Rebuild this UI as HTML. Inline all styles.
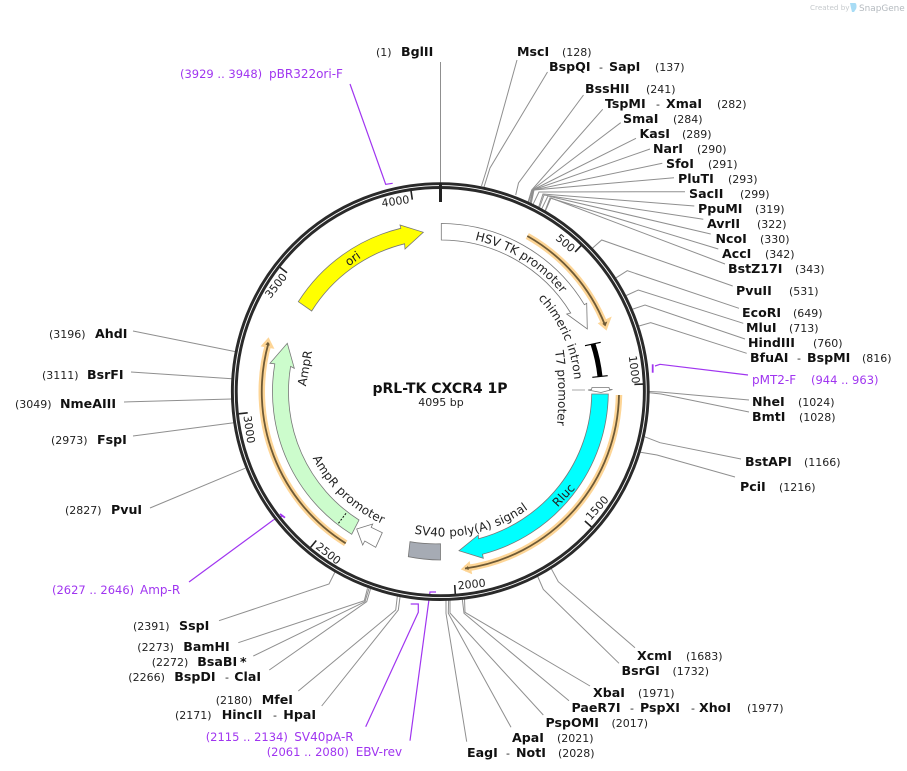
<!DOCTYPE html>
<html><head><meta charset="utf-8"><title>pRL-TK CXCR4 1P</title>
<style>
html,body{margin:0;padding:0;background:#fff}
svg{display:block}
text{font-family:"DejaVu Sans","Liberation Sans",sans-serif;fill:#111;white-space:pre}
.b{font-size:12.6px;font-weight:bold}
.n{font-size:11px;fill:#222}
.p{font-size:12px;fill:#a035f0}
.pn{font-size:11.5px;fill:#a035f0}
.t{font-size:11px;fill:#222}
.f{font-size:12px;fill:#222}
.g{fill:none;stroke:#8f8f8f;stroke-width:1}
.v{fill:none;stroke:#a035f0;stroke-width:1.2}
.o{fill:none;stroke:#fdd596;stroke-width:6.5}
.d{fill:none;stroke:#6e5a36;stroke-width:1.8}
</style></head><body>
<svg width="907" height="771" viewBox="0 0 907 771" xmlns="http://www.w3.org/2000/svg">
<!-- watermark -->
<text x="810" y="10" style="font-size:7.2px;fill:#c6cacd">Created by</text>
<path d="M850,3h5c1.5,0 2,4 1,6l-2,3h-2l-1,-4z" fill="#a8dcf5"/>
<text x="859" y="11" style="font-size:8.9px;fill:#b4babf">SnapGene</text>

<!-- connectors -->
<g class="g">
<path d="M440.5,62V183"/>
<path d="M517,60L486.5,170L481.5,186"/>
<path d="M547.5,72L490,168L484,187"/>
<path d="M583.5,95L518.5,183L515.7,195"/>
<path d="M602.7,109.3L531.7,190L528.1,201.8"/>
<path d="M620.7,122.7L532,190L528.7,202.1"/>
<path d="M636,138.3L532.5,190L530.1,202.7"/>
<path d="M650,149L533,190L530.4,202.8"/>
<path d="M662.3,163.3L533.5,190L530.8,203"/>
<path d="M674,177.7L534,190L531.3,203.3"/>
<path d="M685,191.7L539,192L533.1,204.2"/>
<path d="M694.3,206L543,194L538.7,207"/>
<path d="M703.3,219.3L544,195L539.6,207.5"/>
<path d="M710.7,234L548,196L541.8,208.7"/>
<path d="M718.3,249L550,198L545.2,210.5"/>
<path d="M725,264L551,198L545.5,210.7"/>
<path d="M732.7,286L601.7,240L592.5,248.1"/>
<path d="M739,308.3L627.3,270.7L615.9,277.9"/>
<path d="M743.3,323.3L638.3,290L626.2,295.5"/>
<path d="M745,339L645,305L632.6,309.2"/>
<path d="M746.7,353.3L650.7,322.7L639,326"/>
<path d="M749,400L660,392L649.5,391.5"/>
<path d="M749,412L661,394L649.5,392.8"/>
<path d="M741,459L660,442.7L644.5,436.7"/>
<path d="M735,477L657,455L640.5,452.3"/>
<path d="M635,647.7L558.3,581.7L551.3,568.7"/>
<path d="M619,663.3L543.3,589.3L537.7,576.5"/>
<path d="M590,686L465,612.3L464.5,599"/>
<path d="M569,700.7L464,613.3L462.3,599.3"/>
<path d="M543.3,715L450,613L450,600.3"/>
<path d="M511,727.3L448.3,613.3L448.6,600.3"/>
<path d="M466.7,741.7L446,613.3L446,600.4"/>
<path d="M321.7,706L398.3,610L400,597"/>
<path d="M298.3,691L395.7,610L397.3,596.5"/>
<path d="M269.3,670L366.7,601.7L370.5,589"/>
<path d="M253.3,656L365,601.7L369,588.5"/>
<path d="M238.3,642.7L364.3,600.7L367.5,588.3"/>
<path d="M219,620.7L329,584L335,572"/>
<path d="M150,508L245,468.3"/>
<path d="M133,436L233.8,422.7"/>
<path d="M124,402L231.6,399"/>
<path d="M131,372L231.9,378.7"/>
<path d="M133,331L235.3,351.6"/>
<path d="M572,390H585" stroke="#aaa"/>
</g>

<!-- primer connectors -->
<g class="v">
<path d="M350,84L385.7,184.3L392.7,183.3"/>
<path d="M748,375L660,364.3L655,366"/>
<path d="M652.7,364.3V372.7" stroke-width="1.8"/>
<path d="M189,582L273.3,520"/>
<path d="M280,514L285,517.7" stroke-width="1.8"/>
<path d="M273.3,520L282.5,516"/>
<path d="M365.7,726.7L418.3,612.3V604H410.7"/>
<path d="M410,740.7L430,592H436"/>
</g>

<!-- backbone -->
<circle cx="440.3" cy="391.6" r="206" fill="none" stroke="#2a2a2a" stroke-width="6.8"/>
<circle cx="440.3" cy="391.6" r="206" fill="none" stroke="#fff" stroke-width=".9"/>
<path d="M440.5,183V202" stroke="#222" stroke-width="3"/>
<g stroke="#222" stroke-width="1.6">
<path d="M581.4,245.3L575.1,251.9M643.4,384.1L634.4,384.4M591.6,527L584.9,521M455.3,594L454.7,585M310.6,547.4L316.3,540.5M238.7,413.8L247.7,412.8M279.9,267.3L287,272.8M411,190.6L412.3,199.6"/>
</g>
<g class="t" text-anchor="middle">
<text class="t" transform="translate(396,205) rotate(-8)">4000</text>
<text class="t" transform="translate(279,288) rotate(-52)">3500</text>
<text class="t" transform="translate(245.5,430) rotate(82)">3000</text>
<text class="t" transform="translate(326,556.5) rotate(38)">2500</text>
<text class="t" transform="translate(472,588) rotate(-6)">2000</text>
<text class="t" transform="translate(600,510.5) rotate(-48)">1500</text>
<text class="t" transform="translate(630.5,370) rotate(83)">1000</text>
<text class="t" transform="translate(563,246) rotate(40)">500</text>
</g>

<!-- features -->
<path d="M298.3,301.7A168,168 0 0 1 400.8,228.3L400,225L423.3,232.3L405,249L404.6,243.8A152,152 0 0 0 311.7,311Z" fill="#ffff00" stroke="#777" stroke-width=".8"/>
<path d="M441.3,223.5A168,168 0 0 1 584.4,304.7L586.7,303.3L587.3,329L566.7,314L570.7,313A152,152 0 0 0 441.3,240Z" fill="#fff" stroke="#777" stroke-width=".8"/>
<path d="M591.7,394L608.3,394A168,168 0 0 1 482.5,554.2L483.3,558.3L459,550.7L478.3,535L478.6,538.7A152,152 0 0 0 591.7,394Z" fill="#00ffff" stroke="#777" stroke-width=".8"/>
<path d="M410,541.7A152,152 0 0 0 440.5,543.8V560A168,168 0 0 1 408.3,556.7Z" fill="#a6abb4" stroke="#777" stroke-width=".8"/>
<path d="M359,520A152,152 0 0 1 290.6,366.4L294.3,368.3L287.3,343.3L270,363.3L274.8,363.8A168,168 0 0 0 351.7,534.3Z" fill="#ccfccc" stroke="#777" stroke-width=".8"/>
<path d="M346,513.3L337.7,524.3" stroke="#111" stroke-width="1" stroke-dasharray="2 1.5"/>
<path d="M382.3,532.7L375.7,547.3L364.8,541L362.7,545L356.7,529L372.7,524L371.2,527.3Z" fill="#fff" stroke="#777" stroke-width=".8"/>
<!-- chimeric intron -->
<path d="M593,344A160,160 0 0 1 600,376.5" fill="none" stroke="#000" stroke-width="5"/>
<path d="M585,345.7L600.7,342.3M592.3,377.3L607.7,375.7" stroke="#000" stroke-width="1.2"/>
<!-- T7 -->
<path d="M592,387.5L609,387.5L609.5,389.5L612.5,389.5L601,392.5L588,390L591.5,389.5Z" fill="#fff" stroke="#777" stroke-width=".8"/>

<!-- primers orange -->
<path class="o" d="M527.3,236A178,178 0 0 1 605,325"/>
<path d="M600,323.5L606,328.5L609.5,319Z" fill="#6e5a36" stroke="#fdd596" stroke-width="2.5"/>
<path class="d" d="M527.3,236A178,178 0 0 1 605,325"/>
<path class="o" d="M619,395A178.5,178.5 0 0 1 465,568.5"/>
<path d="M468.8,563.5L463,569L470.5,572.2Z" fill="#6e5a36" stroke="#fdd596" stroke-width="2.5"/>
<path class="d" d="M619,395A178.5,178.5 0 0 1 465,568.5"/>
<path class="o" d="M345.7,543.3A179,179 0 0 1 268.5,343"/>
<path d="M263,345.5L268.3,339.5L272.2,347.2Z" fill="#6e5a36" stroke="#fdd596" stroke-width="2.5"/>
<path class="d" d="M345.7,543.3A179,179 0 0 1 268.5,343"/>

<!-- curved feature labels -->
<defs>
<path id="a1" d="M474.9,239.9A156,156 0 0 1 596.5,391.5"/>
<path id="a2" d="M538,298.4A134,134 0 0 1 572.5,414.8"/>
<path id="a3" d="M555,351A300,300 0 0 1 555,440"/>
<path id="a4" d="M414,533.5A144,144 0 0 0 553.1,486"/>
<path id="a5" d="M312.5,458A145,145 0 0 0 415,534"/>
</defs>
<text class="f"><textPath href="#a1">HSV TK promoter</textPath></text>
<text class="f"><textPath href="#a2">chimeric intron</textPath></text>
<text class="f"><textPath href="#a3">T7 promoter</textPath></text>
<text class="f" style="letter-spacing:.15px"><textPath href="#a4">SV40 poly(A) signal</textPath></text>
<text class="f" style="letter-spacing:.2px"><textPath href="#a5">AmpR promoter</textPath></text>
<text class="f" text-anchor="middle" transform="translate(355,262) rotate(-35)">ori</text>
<text class="f" text-anchor="middle" transform="translate(566.5,498) rotate(-47)">Rluc</text>
<text class="f" text-anchor="middle" transform="translate(309,369) rotate(-80)">AmpR</text>

<!-- title -->
<text x="440" y="393" text-anchor="middle" style="font-size:14px;font-weight:bold">pRL-TK CXCR4 1P</text>
<text x="441" y="406" text-anchor="middle" style="font-size:11px;fill:#222">4095 bp</text>

<!-- enzyme labels -->
<text class="n" x="376" y="56">(1)</text><text class="b" x="401" y="56">BglII</text>
<text class="b" x="517" y="56">MscI</text><text class="n" x="562" y="56">(128)</text>
<text class="b" x="549" y="71">BspQI</text><text class="n" x="599" y="71">-</text><text class="b" x="609" y="71">SapI</text><text class="n" x="655" y="71">(137)</text>
<text class="b" x="585" y="93">BssHII</text><text class="n" x="646" y="93">(241)</text>
<text class="b" x="605" y="108">TspMI</text><text class="n" x="656" y="108">-</text><text class="b" x="666" y="108">XmaI</text><text class="n" x="717" y="108">(282)</text>
<text class="b" x="623" y="123">SmaI</text><text class="n" x="673" y="123">(284)</text>
<text class="b" x="639.5" y="138">KasI</text><text class="n" x="682" y="138">(289)</text>
<text class="b" x="653" y="153">NarI</text><text class="n" x="697" y="153">(290)</text>
<text class="b" x="666" y="168">SfoI</text><text class="n" x="708" y="168">(291)</text>
<text class="b" x="678" y="183">PluTI</text><text class="n" x="728" y="183">(293)</text>
<text class="b" x="689" y="198">SacII</text><text class="n" x="740" y="198">(299)</text>
<text class="b" x="698" y="213">PpuMI</text><text class="n" x="755" y="213">(319)</text>
<text class="b" x="707" y="228">AvrII</text><text class="n" x="757" y="228">(322)</text>
<text class="b" x="715.5" y="243">NcoI</text><text class="n" x="760" y="243">(330)</text>
<text class="b" x="722" y="258">AccI</text><text class="n" x="765" y="258">(342)</text>
<text class="b" x="728" y="273">BstZ17I</text><text class="n" x="795" y="273">(343)</text>
<text class="b" x="736" y="295">PvuII</text><text class="n" x="789" y="295">(531)</text>
<text class="b" x="742" y="317">EcoRI</text><text class="n" x="793" y="317">(649)</text>
<text class="b" x="746" y="332">MluI</text><text class="n" x="789" y="332">(713)</text>
<text class="b" x="748" y="347">HindIII</text><text class="n" x="813" y="347">(760)</text>
<text class="b" x="750" y="362">BfuAI</text><text class="n" x="797" y="362">-</text><text class="b" x="807" y="362">BspMI</text><text class="n" x="862" y="362">(816)</text>
<text class="p" x="752" y="384">pMT2-F</text><text class="pn" x="811" y="384">(944 .. 963)</text>
<text class="b" x="752" y="406">NheI</text><text class="n" x="798" y="406">(1024)</text>
<text class="b" x="752" y="421">BmtI</text><text class="n" x="799" y="421">(1028)</text>
<text class="b" x="745" y="466">BstAPI</text><text class="n" x="804" y="466">(1166)</text>
<text class="b" x="740" y="491">PciI</text><text class="n" x="779" y="491">(1216)</text>
<text class="b" x="637" y="660">XcmI</text><text class="n" x="686" y="660">(1683)</text>
<text class="b" x="621.5" y="675">BsrGI</text><text class="n" x="672.5" y="675">(1732)</text>
<text class="b" x="593" y="697">XbaI</text><text class="n" x="638" y="697">(1971)</text>
<text class="b" x="571.5" y="712">PaeR7I</text><text class="n" x="630" y="712">-</text><text class="b" x="640" y="712">PspXI</text><text class="n" x="691" y="712">-</text><text class="b" x="699" y="712">XhoI</text><text class="n" x="747" y="712">(1977)</text>
<text class="b" x="545.5" y="727">PspOMI</text><text class="n" x="611.5" y="727">(2017)</text>
<text class="b" x="512" y="742">ApaI</text><text class="n" x="557" y="742">(2021)</text>
<text class="b" x="467" y="757">EagI</text><text class="n" x="506" y="757">-</text><text class="b" x="516" y="757">NotI</text><text class="n" x="558" y="757">(2028)</text>
<text class="n" x="133" y="630">(2391)</text><text class="b" x="179" y="630">SspI</text>
<text class="n" x="137.3" y="651">(2273)</text><text class="b" x="183.3" y="651">BamHI</text>
<text class="n" x="151.7" y="666">(2272)</text><text class="b" x="197.3" y="666">BsaBI</text><text class="b" x="240" y="666">*</text>
<text class="n" x="128.3" y="681">(2266)</text><text class="b" x="174.3" y="681">BspDI</text><text class="n" x="225" y="681">-</text><text class="b" x="234.3" y="681">ClaI</text>
<text class="n" x="215.7" y="704">(2180)</text><text class="b" x="261.7" y="704">MfeI</text>
<text class="n" x="175" y="719">(2171)</text><text class="b" x="221.7" y="719">HincII</text><text class="n" x="273" y="719">-</text><text class="b" x="283.3" y="719">HpaI</text>
<text class="pn" x="205.7" y="741">(2115 .. 2134)</text><text class="p" x="294.3" y="741">SV40pA-R</text>
<text class="pn" x="266.7" y="756">(2061 .. 2080)</text><text class="p" x="355.7" y="756">EBV-rev</text>
<text class="pn" x="52" y="594">(2627 .. 2646)</text><text class="p" x="140" y="594">Amp-R</text>
<text class="n" x="65" y="514">(2827)</text><text class="b" x="111" y="514">PvuI</text>
<text class="n" x="51" y="444">(2973)</text><text class="b" x="97" y="444">FspI</text>
<text class="n" x="15" y="408">(3049)</text><text class="b" x="60" y="408">NmeAIII</text>
<text class="n" x="42" y="379">(3111)</text><text class="b" x="87" y="379">BsrFI</text>
<text class="n" x="49" y="338">(3196)</text><text class="b" x="95" y="338">AhdI</text>
<text class="pn" x="180" y="78">(3929 .. 3948)</text><text class="p" x="269" y="78">pBR322ori-F</text>
</svg>
</body></html>
